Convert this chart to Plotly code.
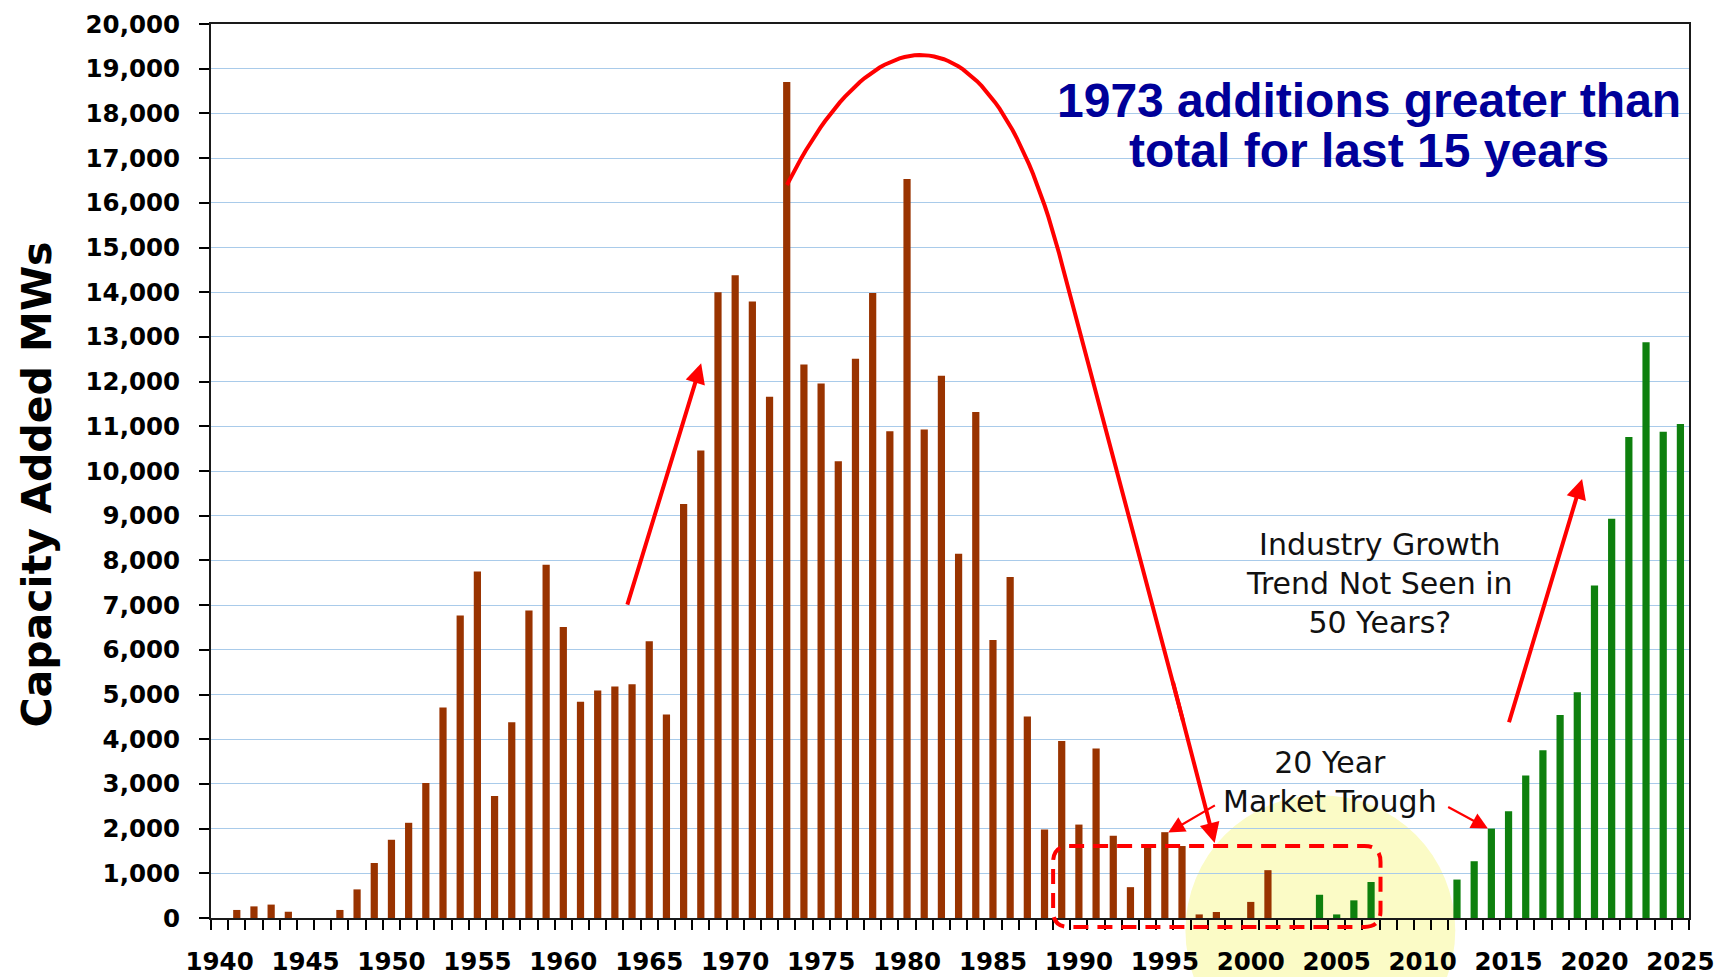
import plotly.graph_objects as go

# ---------------- data ----------------
years = list(range(1940, 2026))

brown_mw = [
    0, 180, 260, 300, 140, 0, 0, 180, 640, 1230,                 # 1940-1949
    1750, 2130, 3020, 4710, 6770, 7750, 2730, 4380, 6880, 7900,   # 1950-1959
    6510, 4840, 5090, 5180, 5230, 6190, 4550, 9260, 10460, 14000, # 1960-1969
    14380, 13790, 11660, 18700, 12380, 11960, 10220, 12510, 13980, 10890,  # 1970-1979
    16530, 10930, 12130, 8150, 11320, 6220, 7630, 4510, 1980, 3960,        # 1980-1989
    2090, 3790, 1840, 690, 1620, 1920, 1610, 80, 135, 0,          # 1990-1999
    360, 1070, 0, 0, 0, 0, 0, 0, 0, 0,                             # 2000-2009
    0, 0, 0, 0, 0, 0, 0, 0, 0, 0,                                  # 2010-2019
    0, 0, 0, 0, 0, 0,                                              # 2020-2025
]

green_mw = [0] * 60 + [
    0, 0, 0, 0, 520, 80, 395, 805, 0, 0,                           # 2000-2009
    0, 0, 860, 1270, 2000, 2390, 3190, 3750, 4540, 5050,           # 2010-2019
    7440, 8930, 10760, 12880, 10880, 11050,                        # 2020-2025
]

x_tick_years = list(range(1940, 2026, 5))
x_tick_labels = [str(y) for y in x_tick_years]

y_axis_title = "Capacity Added MWs"
note_blue_1 = "1973 additions greater than"
note_blue_2 = "total for last 15 years"
note_growth = "Industry Growth<br>Trend Not Seen in<br>50 Years?"
note_trough = "20 Year<br>Market Trough"

# big curved arrow: cubic Bezier control points (data units) + straight run to the head
curve_ctrl_x = [1973.01, 1978.42, 1985.10, 1989.05]
curve_ctrl_y = [16398, 20537, 20537, 14571]
curve_line_end = (1996.05, 4425)
curve_tip = (1997.9, 1680)

# ---------------- figure ----------------
W, H = 1726, 977
ML, MR, MT, MB = 211, 37, 24, 59
X_RANGE = [1939.5, 2025.5]
Y_RANGE = [0, 20000]
PW, PH = W - ML - MR, H - MT - MB

def xp(v):
    return (v - X_RANGE[0]) / (X_RANGE[1] - X_RANGE[0])

def yp(v):
    return (v - Y_RANGE[0]) / (Y_RANGE[1] - Y_RANGE[0])

def bezier(cx, cy, n=60):
    xs, ys = [], []
    for i in range(n + 1):
        t = i / n
        b = [(1 - t) ** 3, 3 * (1 - t) ** 2 * t, 3 * (1 - t) * t ** 2, t ** 3]
        xs.append(sum(bi * c for bi, c in zip(b, cx)))
        ys.append(sum(bi * c for bi, c in zip(b, cy)))
    return xs, ys

RED = "#FF0000"

fig = go.Figure()
fig.add_trace(go.Bar(x=years, y=brown_mw, width=0.42,
                     marker=dict(color="#993300", line=dict(width=0)),
                     hoverinfo="x+y", showlegend=False))
fig.add_trace(go.Bar(x=years, y=green_mw, width=0.42,
                     marker=dict(color="#0E800E", line=dict(width=0)),
                     hoverinfo="x+y", showlegend=False))

cx, cy = bezier(curve_ctrl_x, curve_ctrl_y)
cx.append(curve_line_end[0])
cy.append(curve_line_end[1])
fig.add_trace(go.Scatter(x=cx, y=cy, mode="lines",
                         line=dict(color=RED, width=4),
                         hoverinfo="skip", showlegend=False))

annotations = []

def arrow(tail, head, width, size=1.0):
    annotations.append(dict(
        x=head[0], y=head[1], ax=tail[0], ay=tail[1],
        xref="x", yref="y", axref="x", ayref="y",
        text="", showarrow=True, arrowhead=2, arrowsize=size,
        arrowwidth=width, arrowcolor=RED, standoff=0, startstandoff=0))

# final segment of the big curve (tail lies on the straight run, overlapping it)
slope = (curve_tip[1] - curve_line_end[1]) / (curve_tip[0] - curve_line_end[0])
tail_x = curve_line_end[0] - 0.6
arrow((tail_x, curve_line_end[1] + slope * (tail_x - curve_line_end[0])), curve_tip, 4)
arrow((1963.7, 6976), (1968.02, 12408), 4)
arrow((2015.0, 4346), (2019.28, 9819), 4)
arrow((1998.0, 2540), (1995.2, 1910), 2.2, 1.5)
arrow((2011.4, 2500), (2013.8, 2000), 2.2, 1.5)

annotations += [
    dict(x=2006.9, y=18279, xref="x", yref="y", text="<b>" + note_blue_1 + "</b>",
         showarrow=False, xanchor="center", yanchor="middle",
         font=dict(family="Liberation Sans, Arial", size=48, color="#000099")),
    dict(x=2006.9, y=17180, xref="x", yref="y", text="<b>" + note_blue_2 + "</b>",
         showarrow=False, xanchor="center", yanchor="middle",
         font=dict(family="Liberation Sans, Arial", size=48, color="#000099")),
    dict(x=2007.5, y=7484, xref="x", yref="y", text=note_growth,
         showarrow=False, xanchor="center", yanchor="middle", align="center",
         font=dict(family="DejaVu Sans", size=30, color="#111111")),
    dict(x=2004.6, y=3037, xref="x", yref="y", text=note_trough,
         showarrow=False, xanchor="center", yanchor="middle", align="center",
         font=dict(family="DejaVu Sans", size=30, color="#111111")),
    dict(x=(36 - ML) / PW, y=(H - MB - 484.5) / PH, xref="paper", yref="paper",
         text="<b>" + y_axis_title + "</b>", textangle=-90, showarrow=False,
         xanchor="center", yanchor="middle",
         font=dict(family="DejaVu Sans", size=41, color="black")),
]

# dashed rounded box around the trough
bx0, bx1 = xp(1988.5), xp(2007.55)
by0, by1 = yp(-200), yp(1610)
rx, ry = 16 / PW, 16 / PH
box_path = (f"M {bx0+rx},{by1} L {bx1-rx},{by1} Q {bx1},{by1} {bx1},{by1-ry} "
            f"L {bx1},{by0+ry} Q {bx1},{by0} {bx1-rx},{by0} "
            f"L {bx0+rx},{by0} Q {bx0},{by0} {bx0},{by0+ry} "
            f"L {bx0},{by1-ry} Q {bx0},{by1} {bx0+rx},{by1} Z")

shapes = [
    dict(type="circle", xref="paper", yref="paper",
         x0=xp(1996.2), x1=xp(2011.9), y0=yp(-3300), y1=yp(2746),
         fillcolor="#FBFBC6", line=dict(width=0), layer="below"),
    dict(type="path", xref="paper", yref="paper", path=box_path,
         line=dict(color=RED, width=4, dash="15px,9px"), layer="above"),
]

tick_font = dict(family="DejaVu Sans", size=24.5, color="black", weight="bold")

fig.update_layout(
    width=W, height=H,
    margin=dict(l=ML, r=MR, t=MT, b=MB, pad=0),
    paper_bgcolor="white", plot_bgcolor="rgba(0,0,0,0)",
    barmode="overlay", showlegend=False,
    annotations=annotations, shapes=shapes,
    xaxis=dict(range=X_RANGE, tickmode="array", tickvals=x_tick_years, ticktext=x_tick_labels,
               ticks="", showgrid=False, zeroline=False, automargin=False,
               showline=True, linecolor="#1a1a1a", linewidth=2, mirror=True,
               tickfont=tick_font, ticklabelstandoff=21,
               minor=dict(tickmode="linear", tick0=1939.5, dtick=1, ticks="outside",
                          ticklen=10, tickwidth=2, tickcolor="black", showgrid=False)),
    yaxis=dict(range=Y_RANGE, tickmode="linear", tick0=0, dtick=1000, tickformat=",",
               ticks="outside", ticklen=10, tickwidth=1.5, tickcolor="black",
               showgrid=True, gridcolor="#A9CBEA", gridwidth=1.2, zeroline=False,
               automargin=False,
               showline=True, linecolor="#1a1a1a", linewidth=2, mirror=True,
               tickfont=tick_font, ticklabelstandoff=14),
)

fig.write_html("out.html", config={"displayModeBar": False},
               post_script="document.body.style.margin='0';")
